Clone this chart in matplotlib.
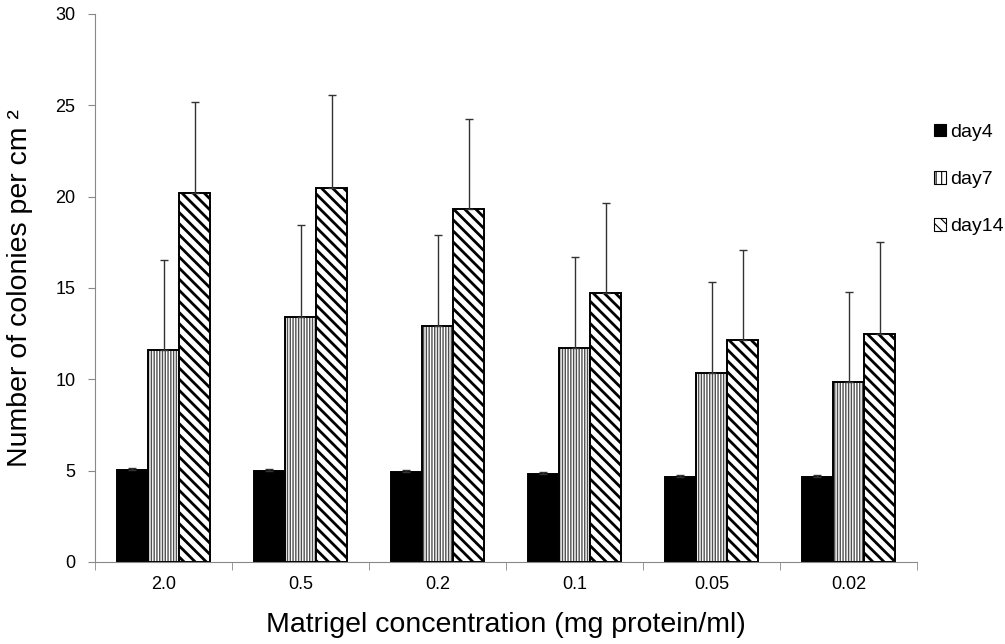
import numpy as np
import matplotlib.pyplot as plt
from matplotlib.patches import Patch

plt.rcParams['font.family'] = ['Liberation Sans', 'DejaVu Sans']

# Data

concentrations = ['2.0', '0.5', '0.2', '0.1', '0.05', '0.02']
series_names = ['day4', 'day7', 'day14']

day4 = [5.05, 5.0, 4.95, 4.8, 4.65, 4.65]
day4_err = [0.1, 0.1, 0.1, 0.1, 0.1, 0.1]

day7 = [11.6, 13.4, 12.9, 11.7, 10.35, 9.85]
day7_err = [4.95, 5.05, 5.0, 5.0, 5.0, 4.95]

day14 = [20.2, 20.5, 19.3, 14.7, 12.15, 12.5]
day14_err = [5.0, 5.05, 4.95, 4.95, 4.95, 5.0]

values = [day4, day7, day14]
errors = [day4_err, day7_err, day14_err]
hatches = [None, '||||||', '\\\\\\']
hatch_lw = [1.0, 1.0, 2.0]
faces = ['black', 'white', 'white']
hatch_cols = ['black', '#505050', 'black']

# Figure

fig = plt.figure(figsize=(10.05, 6.44), dpi=100)
ax = fig.add_axes([95 / 1005, 82 / 644, 822 / 1005, 548 / 644])

x = np.arange(len(concentrations))
width = 0.228

for i in range(3):
    pos = x + (i - 1) * width
    plt.rcParams['hatch.linewidth'] = hatch_lw[i]
    # hatched fill first, then a black outline on top
    ax.bar(pos, values[i], width, color=faces[i], edgecolor=hatch_cols[i],
           hatch=hatches[i], linewidth=0)
    ax.bar(pos, values[i], width, fill=False, edgecolor='black', linewidth=1.4)
    ax.errorbar(pos, values[i],
                yerr=[np.zeros(len(x)), errors[i]],
                fmt='none', ecolor='#333333', elinewidth=1.0,
                capsize=3, capthick=1.0)

ax.set_xlim(-0.5, len(x) - 0.5)
ax.set_ylim(0, 30)
ax.set_yticks(range(0, 31, 5))
ax.set_xticks(x)
ax.set_xticklabels(concentrations)
ax.set_xticks(np.arange(-0.5, len(x)), minor=True)

for side in ['top', 'right']:
    ax.spines[side].set_visible(False)
for side in ['left', 'bottom']:
    ax.spines[side].set_color('#888888')

ax.tick_params(axis='x', which='major', length=0, labelsize=13, pad=10)
ax.tick_params(axis='x', which='minor', length=6, color='#888888')
ax.tick_params(axis='y', length=5, color='#888888', labelsize=13, pad=9)

ax.set_ylabel('Number of colonies per cm \u00b2', fontsize=20.5)
ax.yaxis.set_label_coords(-0.075, 0.5)
ax.set_xlabel('Matrigel concentration (mg protein/ml)', fontsize=20.5, labelpad=14)

# legend swatches are small, so use sparser hatches there
plt.rcParams['hatch.linewidth'] = 0.8
legend_hatches = [None, '|||', '\\\\\\']
handles = [Patch(facecolor=faces[i], edgecolor='black',
                 hatch=legend_hatches[i], linewidth=0.8) for i in range(3)]
fig.legend(handles, series_names, loc='upper left',
           bbox_to_anchor=(934 / 1005, 1 - 124 / 644), borderpad=0,
           borderaxespad=0, frameon=False, fontsize=14,
           handlelength=0.6, handleheight=0.6,
           handletextpad=0.25, labelspacing=1.55)

fig.savefig('out.png', dpi=100)
